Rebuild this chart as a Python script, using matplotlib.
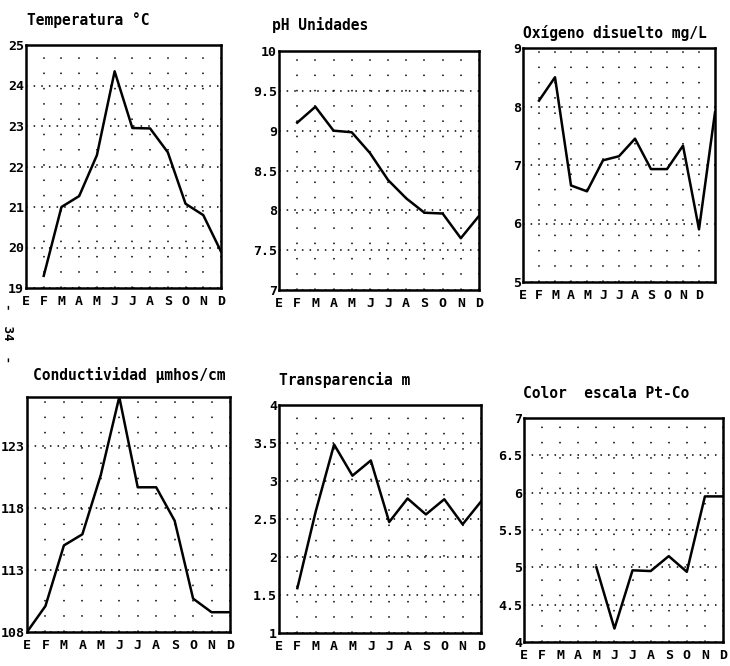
import numpy as np
import matplotlib.pyplot as plt

W, H = 730, 666

meses = ['E', 'F', 'M', 'A', 'M', 'J', 'J', 'A', 'S', 'O', 'N', 'D']
nan = np.nan

temperatura = [nan, 19.3, 21.0, 21.27, 22.28, 24.35, 22.95, 22.94, 22.35, 21.08, 20.8, 19.9]
ph = [nan, 9.1, 9.3, 9.0, 8.98, 8.72, 8.38, 8.15, 7.97, 7.96, 7.65, 7.93]
oxigeno = [nan, 8.1, 8.5, 6.65, 6.55, 7.08, 7.15, 7.45, 6.93, 6.93, 7.33, 5.9, 7.9]
conductividad = [108.0, 110.1, 115.0, 115.9, 120.7, 127.0, 119.7, 119.7, 117.0, 110.7, 109.6, 109.6]
transparencia = [nan, 1.59, 2.6, 3.48, 3.07, 3.27, 2.46, 2.77, 2.56, 2.76, 2.43, 2.73]
color = [nan, nan, nan, nan, 5.0, 4.18, 4.96, 4.95, 5.15, 4.94, 5.95, 5.95]

# printer-like monospace look
plt.rcParams['font.family'] = ['DejaVu Sans Mono', 'DejaVu Sans']
plt.rcParams['font.weight'] = 'bold'

fig = plt.figure(figsize=(W / 100, H / 100), dpi=100)


def panel(box, values, ylim, yticks, ylabels, title, title_xy, xmax=11):
    left, right, top, bottom = box
    ax = fig.add_axes([left / W, 1 - bottom / H, (right - left) / W, (bottom - top) / H])
    x = np.arange(len(values))
    ax.plot(x, values, color='black', lw=1.8)
    ax.set_xlim(0, xmax)
    ax.set_ylim(*ylim)
    ax.set_xticks(range(12))
    ax.set_xticklabels(meses, fontsize=9.5, fontweight='bold')
    ax.set_yticks(yticks)
    ax.set_yticklabels(ylabels, fontsize=9.5, fontweight='bold')
    ax.tick_params(length=0)
    ax.tick_params(axis='x', pad=5)
    ax.tick_params(axis='y', pad=1.5)
    ax.xaxis.grid(True, color='black', linestyle=(0, (1, 9)), lw=1.1)
    ax.yaxis.grid(True, color='black', linestyle=(0, (1, 4)), lw=1.1)
    for s in ax.spines.values():
        s.set_linewidth(1.8)
    fig.text(title_xy[0] / W, 1 - title_xy[1] / H, title, fontsize=10.5,
             fontweight='bold', ha='left', va='center')
    return ax


panel((26, 221, 45, 288), temperatura, (19, 25), range(19, 26),
      [str(v) for v in range(19, 26)], 'Temperatura °C', (27, 20))

ph_ticks = [7, 7.5, 8, 8.5, 9, 9.5, 10]
panel((279, 479, 51, 290), ph, (7, 10), ph_ticks,
      ['7', '7.5', '8', '8.5', '9', '9.5', '10'], 'pH Unidades', (272, 25))

panel((523, 715, 48, 282), oxigeno, (5, 9), range(5, 10),
      [str(v) for v in range(5, 10)], 'Oxígeno disuelto mg/L', (523, 33), xmax=12)

panel((27, 230, 397, 632), conductividad, (108, 127), [108, 113, 118, 123],
      ['108', '113', '118', '123'], 'Conductividad µmhos/cm', (33, 375))

tr_ticks = [1, 1.5, 2, 2.5, 3, 3.5, 4]
panel((279, 481, 405, 633), transparencia, (1, 4), tr_ticks,
      ['1', '1.5', '2', '2.5', '3', '3.5', '4'], 'Transparencia m', (279, 380))

co_ticks = [4, 4.5, 5, 5.5, 6, 6.5, 7]
panel((524, 723, 418, 642), color, (4, 7), co_ticks,
      ['4', '4.5', '5', '5.5', '6', '6.5', '7'], 'Color  escala Pt-Co', (523, 393))

fig.text(7 / W, 1 - 333 / H, '-  34  -', fontsize=9, rotation=-90, ha='center', va='center')

fig.savefig('out.png', dpi=100)
